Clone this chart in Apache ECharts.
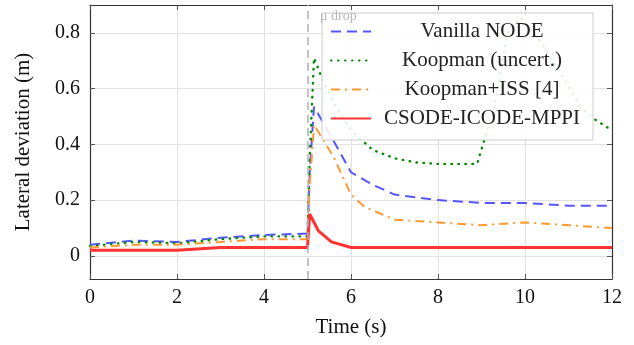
<!DOCTYPE html>
<html>
<head>
<meta charset="utf-8">
<script src="https://cdn.jsdelivr.net/npm/echarts@6/dist/echarts.min.js"></script>
<style>
  html, body { margin: 0; padding: 0; background: #fff; }
  #chart { width: 634px; height: 345px; }
</style>
</head>
<body>
<div id="chart"></div>
<script>
// series names
const names = ['Vanilla NODE', 'Koopman (uncert.)', 'Koopman+ISS [4]', 'CSODE-ICODE-MPPI']

// Vanilla NODE
const tNode = [0, 1, 2, 3, 4, 5, 5.05, 5.15, 5.5, 6, 6.5, 7, 8, 9, 10, 11, 12]
const vNode = [0.04, 0.055, 0.05, 0.065, 0.075, 0.08, 0.3, 0.535, 0.44, 0.3, 0.255, 0.22, 0.2, 0.19, 0.19, 0.18, 0.18]

// Koopman (uncert.)
const tKoop = [0, 1, 2, 3, 4, 5, 5.05, 5.15, 5.3, 5.6, 6, 6.5, 7, 7.5, 8, 8.9, 9.3, 9.6, 9.9, 10.4, 10.8, 11.3, 11.6, 12]
const vKoop = [0.035, 0.05, 0.045, 0.06, 0.07, 0.07, 0.35, 0.71, 0.65, 0.55, 0.45, 0.38, 0.35, 0.335, 0.33, 0.33, 0.54, 0.8, 0.855, 0.76, 0.66, 0.53, 0.49, 0.45]

// Koopman+ISS [4]
const tIss = [0, 1, 2, 3, 4, 5, 5.05, 5.15, 5.6, 6, 6.3, 7, 8, 9, 10, 11, 12]
const vIss = [0.03, 0.04, 0.04, 0.05, 0.06, 0.06, 0.25, 0.47, 0.355, 0.22, 0.177, 0.13, 0.12, 0.11, 0.12, 0.11, 0.1]

// CSODE-ICODE-MPPI
const tOurs = [0, 2, 3, 5, 5.05, 5.25, 5.55, 6, 12]
const vOurs = [0.02, 0.02, 0.03, 0.03, 0.15, 0.09, 0.05, 0.03, 0.03]

// ticks
const yTicks = [0, 0.2, 0.4, 0.6, 0.8]
const dropTime = 5

const pairs = (t, v) => t.map((x, i) => [x, v[i]])
const serif = '"Liberation Serif", "DejaVu Serif", serif'

const baseY = {
    type: 'value',
    min: -0.083,
    max: 0.9,
    axisLine: { show: true, onZero: false, lineStyle: { color: '#333', width: 1.2 } },
    axisTick: { show: true, inside: true, length: 5, customValues: yTicks, lineStyle: { color: '#555' } },
}

const option = {
    animation: false,
    grid: { left: 90, right: 22, top: 5, bottom: 66, containLabel: false },
    legend: {
        orient: 'vertical',
        left: 322,
        top: 13,
        padding: [8, 5, 11, 8],
        itemGap: 8,
        itemWidth: 40,
        itemHeight: 12,
        backgroundColor: 'rgba(255,255,255,0.88)',
        borderColor: '#ccc',
        borderWidth: 1,
        borderRadius: 0,
        selectedMode: false,
        itemStyle: { opacity: 0 },
        data: names,
        formatter: (n) => '{c|' + n + '}',
        textStyle: {
            fontFamily: serif,
            fontSize: 21,
            color: '#222',
            rich: { c: { width: 212, align: 'center', lineHeight: 21, fontFamily: serif, fontSize: 21, color: '#222' } }
        }
    },
    xAxis: [{
        type: 'value',
        min: 0,
        max: 12,
        interval: 2,
        name: 'Time (s)',
        nameLocation: 'middle',
        nameGap: 38,
        nameTextStyle: { fontFamily: serif, fontSize: 21, color: '#111' },
        axisLine: { show: true, onZero: false, lineStyle: { color: '#333', width: 1.2 } },
        axisTick: { show: true, inside: true, length: 5, lineStyle: { color: '#555' } },
        axisLabel: { fontFamily: serif, fontSize: 20, color: '#111', margin: 9 },
        splitLine: { show: true, lineStyle: { color: '#e2e2e2' } }
    }, {
        type: 'value',
        position: 'top',
        min: 0,
        max: 12,
        interval: 2,
        axisLine: { show: true, onZero: false, lineStyle: { color: '#333', width: 1.2 } },
        axisTick: { show: true, inside: true, length: 5, lineStyle: { color: '#555' } },
        axisLabel: { show: false },
        splitLine: { show: false }
    }],
    yAxis: [Object.assign({}, baseY, {
        name: 'Lateral deviation (m)',
        nameLocation: 'middle',
        nameGap: 56,
        nameTextStyle: { fontFamily: serif, fontSize: 21, color: '#111' },
        axisLabel: { fontFamily: serif, fontSize: 20, color: '#111', margin: 10, customValues: yTicks },
        splitLine: { show: true, lineStyle: { color: '#e2e2e2' } }
    }), Object.assign({}, baseY, {
        position: 'right',
        axisLabel: { show: false },
        splitLine: { show: false }
    })],
    series: [{
        name: names[0],
        type: 'line',
        symbol: 'none',
        data: pairs(tNode, vNode),
        lineStyle: { color: '#5555ff', width: 2, type: [10, 6] },
        itemStyle: { color: '#5555ff' },
        markLine: {
            silent: true,
            symbol: 'none',
            label: { show: false },
            lineStyle: { color: '#b0b0b0', width: 1.5, type: [8, 5] },
            data: [{ xAxis: dropTime }]
        },
        markPoint: {
            silent: true,
            symbol: 'circle',
            symbolSize: 0,
            data: [{ coord: [dropTime + 0.15, 0.86] }],
            label: {
                show: true,
                position: 'right',
                distance: 6,
                formatter: 'μ drop',
                fontFamily: serif,
                fontSize: 14,
                color: '#b8b8b8'
            }
        }
    }, {
        name: names[1],
        type: 'line',
        symbol: 'none',
        data: pairs(tKoop, vKoop),
        lineStyle: { color: '#008a00', width: 2.4, type: [0.5, 6.5], cap: 'round' },
        itemStyle: { color: '#008a00' }
    }, {
        name: names[2],
        type: 'line',
        symbol: 'none',
        data: pairs(tIss, vIss),
        lineStyle: { color: '#ff9933', width: 2, type: [9, 5, 2, 5] },
        itemStyle: { color: '#ff9933' }
    }, {
        name: names[3],
        type: 'line',
        symbol: 'none',
        data: pairs(tOurs, vOurs),
        lineStyle: { color: '#ff3333', width: 3 },
        itemStyle: { color: '#ff3333' }
    }]
}

const chart = echarts.init(document.getElementById('chart'), null, { renderer: 'canvas' })
chart.setOption(option)
</script>
</body>
</html>
